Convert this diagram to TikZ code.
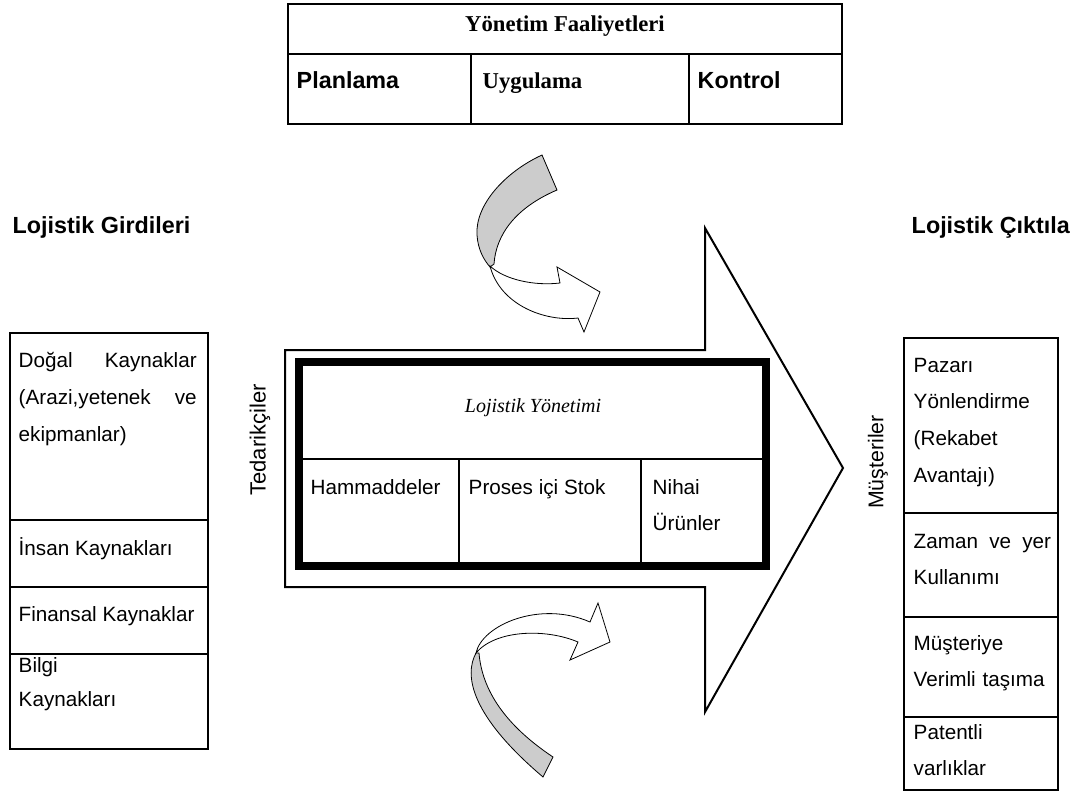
\documentclass[tikz,border=0pt]{standalone}
\usepackage{fontspec}
\setmainfont{Liberation Sans}
\newfontfamily\timesf{Liberation Serif}
\usepackage{tikz}

\begin{document}
\begin{tikzpicture}[x = .75pt, y = -.75pt, line width = 1.1pt,
    txt/.style = {inner sep = 0pt, anchor = base west, align = left, font = \fontsize{15.5}{28}\selectfont},
    head/.style = {inner sep = 0pt, anchor = base west, font = \fontsize{17.5}{20}\selectfont\bfseries},
    back/.style = {line width = .6pt, fill = gray!40},
    ribbon/.style = {line width = .6pt, fill = white}]
\useasboundingbox (0,0) rectangle (1085,797);
\draw (288,4) rectangle (842,124) (288,54) -- (842,54) (471,54) -- (471,124) (689,54) -- (689,124);
\draw (565,26) node[font = \fontsize{17}{20}\selectfont\timesf\bfseries](yf){Yönetim Faaliyetleri}
    (296,88) node[head](pl){Planlama}
    (482,88) node[head, font = \fontsize{17}{20}\selectfont\timesf\bfseries](uy){Uygulama}
    (697,88) node[head](ko){Kontrol};
\draw (12,233) node[head](lg){Lojistik Girdileri}
    (911,233) node[head](lc){Lojistik Çıktıla};
\draw (10,333) rectangle (208,749) (10,520) -- (208,520) (10,587) -- (208,587) (10,654) -- (208,654);
\draw (18,367) node[txt, text width = 133.5pt](dk){Doğal\hfill Kaynaklar\\(Arazi,yetenek\hfill ve\\ekipmanlar)}
    (18,555) node[txt](ik){İnsan Kaynakları}
    (18,621) node[txt](fk){Finansal Kaynaklar}
    (18,672) node[txt, text width = 133.5pt, font = \fontsize{15.5}{26}\selectfont](bk){Bilgi\\Kaynakları};
\draw (904,338) rectangle (1058,790) (904,513) -- (1058,513) (904,617) -- (1058,617) (904,717) -- (1058,717);
\draw (913,372) node[txt, text width = 110pt, font = \fontsize{15.5}{27.5}\selectfont](py){Pazarı\\Yönlendirme\\(Rekabet\\Avantajı)}
    (913,548) node[txt, text width = 103pt, font = \fontsize{15.5}{27}\selectfont](zy){Zaman\hfill ve\hfill yer\\Kullanımı}
    (913,650) node[txt, text width = 110pt, font = \fontsize{15.5}{27.5}\selectfont](mv){Müşteriye\\Verimli taşıma}
    (913,739) node[txt, text width = 110pt, font = \fontsize{15.5}{27}\selectfont](pv){Patentli\\varlıklar};
\draw[line width = 1.5pt] (285,350) -- (705,350) -- (705,228) -- (843,468) -- (705,712) -- (705,587) -- (285,587) -- cycle;
\draw[line width = 6pt] (299,362) rectangle (766,566);
\draw (299,459) -- (766,459) (459,459) -- (459,566) (641,459) -- (641,566);
\draw (533,408) node[font = \fontsize{15}{18}\selectfont\timesf\itshape](ly){Lojistik Yönetimi}
    (310,494) node[txt](hm){Hammaddeler}
    (468,494) node[txt](ps){Proses içi Stok}
    (652,494) node[txt, text width = 80pt, font = \fontsize{15.5}{27}\selectfont](nu){Nihai\\Ürünler};
\draw (260,440) node[rotate = 90, font = \fontsize{16.5}{20}\selectfont](td){Tedarikçiler}
    (878,462) node[rotate = 90, font = \fontsize{16}{20}\selectfont](ms){Müşteriler};
\filldraw[back] (542,155) .. controls (505,172) and (475,205) .. (477,235) .. controls (478,250) and (484,260) .. (490,267) -- (494,264) .. controls (496,235) and (515,208) .. (557,190) -- cycle;
\filldraw[ribbon] (490,266) .. controls (505,280) and (535,286) .. (560,283) -- (557,267) -- (600,292) -- (584,332) -- (578,318) .. controls (545,322) and (500,305) .. (490,266) -- cycle;
\filldraw[back] (476,653) .. controls (464,675) and (470,715) .. (543,777) -- (553,757) .. controls (505,725) and (482,690) .. (479,653) -- cycle;
\filldraw[ribbon] (476,653) .. controls (482,625) and (540,600) .. (590,622) -- (598,603) -- (610,642) -- (570,660) -- (578,642) .. controls (545,628) and (495,630) .. (476,653) -- cycle;
\end{tikzpicture}
\end{document}
